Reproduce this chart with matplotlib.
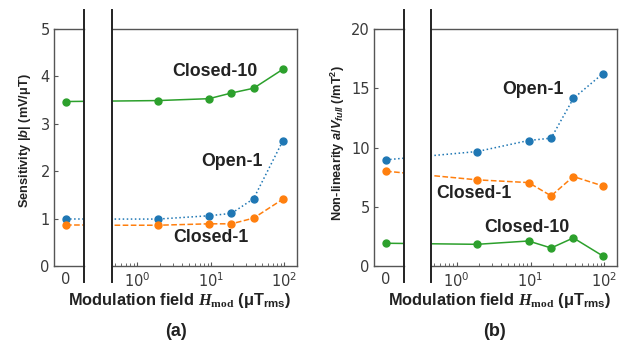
import matplotlib
matplotlib.use("Agg")
import matplotlib.pyplot as plt
from matplotlib.lines import Line2D
from matplotlib.ticker import LogLocator, NullFormatter, FixedLocator

# modulation field values (uT rms); the "0" point sits on its own linear axis
h_zero = 0
h_mod = [1.9, 9.4, 19, 38, 95]
series_names = ["Closed-10", "Open-1", "Closed-1"]

# (a) sensitivity |b| in mV/uT, first value is at H_mod = 0
sens_closed10 = [3.47, 3.49, 3.53, 3.65, 3.75, 4.15]
sens_open1 = [0.99, 0.99, 1.06, 1.11, 1.42, 2.64]
sens_closed1 = [0.86, 0.86, 0.89, 0.89, 1.01, 1.41]

# (b) non-linearity a/V_full in /mT^2
nl_closed10 = [1.92, 1.83, 2.11, 1.52, 2.37, 0.85]
nl_open1 = [8.96, 9.66, 10.59, 10.79, 14.14, 16.23]
nl_closed1 = [8.0, 7.27, 7.04, 5.92, 7.55, 6.76]

plt.rcParams.update(
    {
        "font.family": "DejaVu Sans",
        "mathtext.fontset": "custom",
        "mathtext.rm": "Liberation Sans:bold",
        "mathtext.sf": "Liberation Sans:bold",
        "mathtext.it": "Liberation Sans:italic:bold",
        "mathtext.bf": "Liberation Serif:bold",
        "mathtext.tt": "Liberation Serif:italic:bold",
    }
)

W, H = 624, 347
fig = plt.figure(figsize=(W / 100, H / 100), dpi=100)


def fx(px):
    return px / W


def fy(py):
    return 1 - py / H


styles = {
    "Closed-10": dict(color="#2ca02c", ls="-"),
    "Open-1": dict(color="#1f77b4", ls=":"),
    "Closed-1": dict(color="#ff7f0e", ls="--"),
}
spine_col = "#555555"
tick_col = "#3a3a3a"
label_font = dict(family="Liberation Sans", weight="bold", color="#222222")


def panel(x0, xb1, xb2, x1, ylim, yticks, data, ylabel, ylabel_x, ylabel_y, tag, tag_x, name_pos):
    top, bot = 29, 266
    ax_l = fig.add_axes([fx(x0), fy(bot), fx(xb1) - fx(x0), fy(top) - fy(bot)])
    ax_r = fig.add_axes([fx(xb2), fy(bot), fx(x1) - fx(xb2), fy(top) - fy(bot)])

    for ax in (ax_l, ax_r):
        ax.set_ylim(*ylim)
        for s in ax.spines.values():
            s.set_color(spine_col)
            s.set_linewidth(1.0)
    ax_l.spines["right"].set_visible(False)
    ax_r.spines["left"].set_visible(False)

    ax_l.set_xlim(-0.4, 0.6)
    ax_l.set_xticks([0])
    ax_l.set_xticklabels(["0"])
    ax_l.set_yticks(yticks)
    ax_l.tick_params(axis="x", length=0, pad=4, labelsize=10.5, labelcolor=tick_col)
    ax_l.tick_params(axis="y", direction="in", length=3, width=0.8, color=spine_col,
                     pad=3, labelsize=10.5, labelcolor=tick_col)

    ax_r.set_xscale("log")
    ax_r.set_xlim(0.45, 148)
    ax_r.xaxis.set_major_locator(FixedLocator([1, 10, 100]))
    ax_r.xaxis.set_minor_locator(LogLocator(base=10, subs=range(2, 10)))
    ax_r.xaxis.set_minor_formatter(NullFormatter())
    ax_r.set_yticks([])
    ax_r.tick_params(axis="x", which="major", direction="in", length=3, width=0.8,
                     color=spine_col, pad=4, labelsize=10.5, labelcolor=tick_col)
    ax_r.tick_params(axis="x", which="minor", direction="in", length=2, width=0.6,
                     color=spine_col)

    for name, vals in zip(series_names, data):
        st = styles[name]
        # left part: the zero point, line heading to the first log point
        disp = ax_r.transData.transform((h_mod[0], vals[1]))
        xv = ax_l.transData.inverted().transform(disp)[0]
        ax_l.plot([h_zero, xv], vals[:2], lw=1.1, **st)
        ax_l.plot([h_zero], vals[:1], "o", ms=5, color=st["color"])
        # right part: line coming from the zero point
        disp = ax_l.transData.transform((h_zero, vals[0]))
        xr = ax_r.transData.inverted().transform(disp)[0]
        ax_r.plot([xr] + h_mod, vals, lw=1.1, **st)
        ax_r.plot(h_mod, vals[1:], "o", ms=5, color=st["color"])

    # axis break lines
    for xb in (xb1, xb2):
        fig.add_artist(Line2D([fx(xb), fx(xb)], [fy(282), fy(10)], color="#222222", lw=1.4))

    fig.text(ylabel_x, fy(ylabel_y), ylabel, rotation=90, ha="center", va="center",
             fontsize=9.2, **label_font)
    fig.text(fx((x0 + x1) / 2 + 4), fy(300),
             r"Modulation field $\mathtt{H}_{\mathbf{mod}}$ (μT$_{\mathrm{rms}}$)",
             ha="center", va="center", fontsize=11.8, **label_font)
    fig.text(fx(tag_x), fy(332), tag, ha="center", va="center", fontsize=13, **label_font)
    for name, (px, py) in zip(series_names, name_pos):
        fig.text(fx(px), fy(py), name, ha="center", va="center", fontsize=12.8, **label_font)


panel(54, 84, 112, 297, (0, 5), [0, 1, 2, 3, 4, 5],
      [sens_closed10, sens_open1, sens_closed1],
      "Sensitivity |$b$| (mV/μT)", fx(25), 141, "(a)", 176,
      [(215, 72), (232, 162), (211, 237)])

panel(374, 404, 431, 617, (0, 20), [0, 5, 10, 15, 20],
      [nl_closed10, nl_open1, nl_closed1],
      r"Non-linearity $a/V_{full}$ (/mT$^2$)", fx(338), 143, "(b)", 494,
      [(527, 228), (533, 89), (474, 193)])

fig.savefig("out.png", dpi=100)
